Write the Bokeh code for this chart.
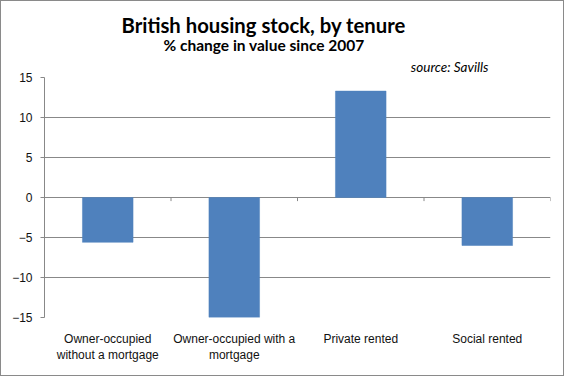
from bokeh.plotting import figure
from bokeh.models import Range1d, FixedTicker, Title
from bokeh.embed import file_html
from bokeh.resources import INLINE

# ---- data ----
categories = ["Owner-occupied\nwithout a mortgage",
              "Owner-occupied with a\nmortgage",
              "Private rented",
              "Social rented"]
values = [-5.6, -15.0, 13.3, -6.0]
y_ticks = [-15, -10, -5, 0, 5, 10, 15]

title_text = "British housing stock, by tenure"
subtitle_text = "% change in value since 2007"
source_text = "source: Savills"

# ---- figure ----
W, H = 564, 376
n = len(categories)
centers = [i + 0.5 for i in range(n)]

p = figure(width=W, height=H, output_backend="svg", toolbar_location=None,
           x_range=Range1d(0, n), y_range=Range1d(y_ticks[0], y_ticks[-1]),
           min_border_left=43, min_border_right=15,
           min_border_top=76, min_border_bottom=60)
p.styles = {"border": "1px solid #8a8a8a"}
p.outline_line_color = None
p.background_fill_color = "white"
p.border_fill_color = "white"

GRAY = "#888888"

# bars
p.vbar(x=centers, top=values, bottom=0, width=0.4,
       fill_color="#4F81BD", line_color="#4F81BD", line_width=0.5)

# small category tick marks on the zero line
bounds = [i + 1 for i in range(n)]
p.segment(x0=bounds, y0=[0] * n, x1=bounds, y1=[-0.45] * n,
          line_color=GRAY, line_width=1)

# grid
p.xgrid.grid_line_color = None
p.ygrid.grid_line_color = GRAY
p.ygrid.grid_line_width = 1
p.ygrid.ticker = FixedTicker(ticks=y_ticks)

# y axis
p.yaxis.ticker = FixedTicker(ticks=y_ticks)
p.yaxis.axis_line_color = GRAY
p.yaxis.major_tick_line_color = GRAY
p.yaxis.major_tick_out = 4
p.yaxis.major_tick_in = 0
p.yaxis.minor_tick_line_color = None
p.yaxis.major_label_standoff = 8
p.yaxis.major_label_text_font = "Liberation Sans"
p.yaxis.major_label_text_font_size = "12px"
p.yaxis.major_label_text_color = "#111111"

# x axis (labels only)
p.xaxis.ticker = FixedTicker(ticks=centers)
p.xaxis.major_label_overrides = {c: lab for c, lab in zip(centers, categories)}
p.xaxis.axis_line_color = None
p.xaxis.major_tick_line_color = None
p.xaxis.minor_tick_line_color = None
p.xaxis.major_label_standoff = 8
p.xaxis.major_label_text_font = "Liberation Sans"
p.xaxis.major_label_text_font_size = "12px"
p.xaxis.major_label_text_color = "#111111"

# titles stacked above the frame
p.add_layout(Title(text=source_text, align="right", offset=62, standoff=6,
                   text_font="Lato", text_font_style="italic",
                   text_font_size="13.5px", text_color="#000000"), "above")
p.add_layout(Title(text=subtitle_text, align="left", offset=119, standoff=0,
                   text_font="Lato", text_font_style="bold",
                   text_font_size="15.5px", text_color="#000000"), "above")
p.add_layout(Title(text=title_text, align="left", offset=77, standoff=-7,
                   text_font="Lato", text_font_style="bold",
                   text_font_size="20.3px", text_color="#000000"), "above")

open("out.html", "w").write(file_html(p, INLINE))
